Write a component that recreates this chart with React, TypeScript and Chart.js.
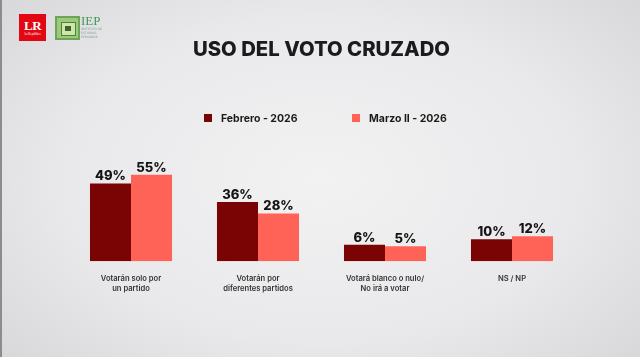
import React, { useEffect, useRef } from "react";
import { Chart, registerables } from "chart.js";

Chart.register(...registerables);

const categories: string[][] = [
  ["Votarán solo por", "un partido"],
  ["Votarán por", "diferentes partidos"],
  ["Votará blanco o nulo/", "No irá a votar"],
  ["NS / NP"],
];
const seriesNames = ["Febrero - 2026", "Marzo II - 2026"];
const febrero = [49, 36, 6, 10];
const marzo = [55, 28, 5, 12];
const seriesColors = ["#7a0303", "#ff6358"];
const titleText = "USO DEL VOTO CRUZADO";

const FONT = "Inter, 'Noto Sans', sans-serif";

const valueLabels = {
  id: "valueLabels",
  afterDatasetsDraw(chart: any) {
    const ctx = chart.ctx;
    ctx.save();
    ctx.font = `800 13px ${FONT}`;
    ctx.fillStyle = "#141414";
    ctx.textAlign = "center";
    ctx.textBaseline = "alphabetic";
    chart.data.datasets.forEach((ds: any, i: number) => {
      const meta = chart.getDatasetMeta(i);
      meta.data.forEach((el: any, j: number) => {
        ctx.fillText(`${ds.data[j]}%`, el.x, el.y - 3);
      });
    });
    ctx.restore();
  },
};

const customLegend = {
  id: "customLegend",
  afterDraw(chart: any) {
    const ctx = chart.ctx;
    ctx.save();
    ctx.font = `700 10.5px ${FONT}`;
    ctx.textBaseline = "middle";
    ctx.textAlign = "left";
    const y = 118;
    const starts = [204, 352];
    chart.data.datasets.forEach((ds: any, i: number) => {
      const x = starts[i];
      ctx.fillStyle = ds.backgroundColor;
      ctx.fillRect(x, y - 4, 8, 8);
      ctx.fillStyle = "#1a1a1a";
      ctx.fillText(ds.label, x + 17, y + 0.5);
    });
    ctx.restore();
  },
};

export default function App() {
  const ref = useRef<HTMLCanvasElement | null>(null);
  useEffect(() => {
    if (!ref.current) return;
    const chart = new Chart(ref.current, {
      type: "bar",
      data: {
        labels: categories,
        datasets: [
          { label: seriesNames[0], data: febrero, backgroundColor: seriesColors[0], base: -5.5 },
          { label: seriesNames[1], data: marzo, backgroundColor: seriesColors[1], base: -5.5 },
        ] as any,
      },
      options: {
        responsive: false,
        animation: false,
        layout: { padding: { left: 67.5, right: 64.5, top: 0, bottom: 50.5 } },
        datasets: { bar: { barPercentage: 1, categoryPercentage: 0.646 } },
        plugins: {
          legend: { display: false },
          tooltip: { enabled: false },
          title: {
            display: true,
            text: titleText,
            color: "#1b1b1b",
            font: { family: FONT, size: 20.3, weight: "800" as any, lineHeight: 1.2 },
            padding: { top: 37.5, bottom: 88 },
          },
        },
        scales: {
          x: {
            grid: { display: false, drawTicks: false },
            border: { display: false },
            ticks: {
              color: "#333333",
              padding: 12.5,
              font: { family: FONT, size: 7.6, weight: "600" as any, lineHeight: 1.33 },
              maxRotation: 0,
              autoSkip: false,
            },
          },
          y: { display: false, min: -5.5, max: 72.5 },
        },
      },
      plugins: [valueLabels, customLegend],
    });
    return () => chart.destroy();
  }, []);

  return (
    <div
      style={{
        position: "fixed",
        left: 0,
        top: 0,
        width: 640,
        height: 357,
        overflow: "hidden",
        background:
          "radial-gradient(ellipse 80% 90% at 50% 50%, #f2f2f3 0%, #e9e9eb 50%, #d0d0d4 100%)",
        borderLeft: "2px solid #8c8c90",
        boxSizing: "border-box",
      }}
    >
      <div
        style={{
          position: "absolute",
          left: 17,
          top: 14,
          width: 27,
          height: 27,
          background: "#e30613",
          color: "#fff",
          fontFamily: "'Liberation Serif', serif",
          textAlign: "center",
        }}
      >
        <div style={{ fontSize: 13, fontWeight: 700, lineHeight: "13px", marginTop: 5, letterSpacing: -0.5 }}>LR</div>
        <div style={{ fontSize: 3, lineHeight: "4px" }}>La República</div>
      </div>
      <div
        style={{
          position: "absolute",
          left: 53,
          top: 16,
          width: 25,
          height: 24,
          background: "#9cc97a",
          boxSizing: "border-box",
          border: "2px solid #6ea35a",
        }}
      >
        <div style={{ position: "absolute", left: 4, top: 4, width: 13, height: 12, background: "#cfe6a9", border: "1px solid #4f7f40" }}>
          <div style={{ position: "absolute", left: 3, top: 3, width: 6, height: 5, background: "#3f5f35" }} />
        </div>
      </div>
      <div
        style={{
          position: "absolute",
          left: 79,
          top: 14,
          fontFamily: "'Liberation Serif', serif",
          color: "#3f9a5a",
          fontSize: 13,
          lineHeight: "13px",
        }}
      >
        IEP
      </div>
      <div
        style={{
          position: "absolute",
          left: 79,
          top: 27,
          fontFamily: "'DejaVu Sans', sans-serif",
          color: "#8aa090",
          fontSize: 3,
          lineHeight: "4px",
        }}
      >
        INSTITUTO DE
        <br />
        ESTUDIOS
        <br />
        PERUANOS
      </div>
      <canvas ref={ref} width={640} height={357} style={{ position: "absolute", left: -2, top: 0, width: 640, height: 357 }} />
    </div>
  );
}
